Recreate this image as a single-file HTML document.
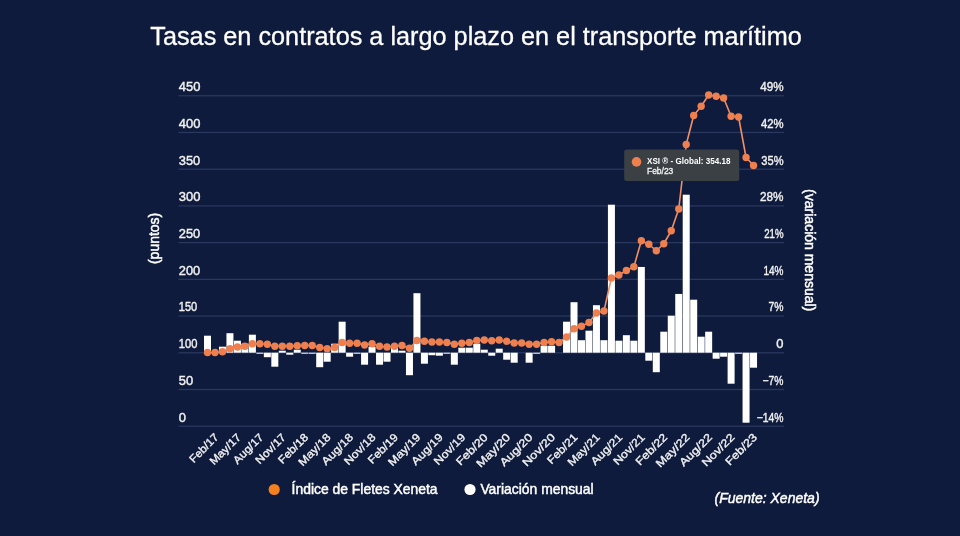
<!DOCTYPE html>
<html><head><meta charset="utf-8"><title>Tasas en contratos a largo plazo en el transporte marítimo</title>
<style>
html,body{margin:0;padding:0;background:#0e1b3c;}
body{width:960px;height:536px;overflow:hidden;font-family:"Liberation Sans",sans-serif;}
svg{display:block}
text{font-family:"Liberation Sans",sans-serif;fill:#f2f2f2}
.ax{font-size:12.5px;stroke:#f2f2f2;stroke-width:0.4px}
.xl{font-size:11px;stroke:#f2f2f2;stroke-width:0.35px}
.yt{font-size:14px;fill:#fff;stroke:#fff;stroke-width:0.5px}
.lg{font-size:13.9px;fill:#fff;stroke:#fff;stroke-width:0.45px}
</style></head><body>
<svg width="960" height="536" viewBox="0 0 960 536">
<rect width="960" height="536" fill="#0e1b3c"/>
<text x="150.3" y="44.9" font-size="26" style="fill:#fff;stroke:#fff;stroke-width:0.3px" textLength="651.5" lengthAdjust="spacingAndGlyphs">Tasas en contratos a largo plazo en el transporte marítimo</text>

<rect x="178.5" y="95.10" width="605.5" height="1.3" fill="#2a375f"/>
<rect x="178.5" y="131.82" width="605.5" height="1.3" fill="#2a375f"/>
<rect x="178.5" y="168.54" width="605.5" height="1.3" fill="#2a375f"/>
<rect x="178.5" y="205.26" width="605.5" height="1.3" fill="#2a375f"/>
<rect x="178.5" y="241.98" width="605.5" height="1.3" fill="#2a375f"/>
<rect x="178.5" y="278.70" width="605.5" height="1.3" fill="#2a375f"/>
<rect x="178.5" y="315.42" width="605.5" height="1.3" fill="#2a375f"/>
<rect x="178.5" y="352.14" width="605.5" height="1.3" fill="#2a375f"/>
<rect x="178.5" y="388.86" width="605.5" height="1.3" fill="#2a375f"/>
<rect x="178.5" y="425.58" width="605.5" height="1.3" fill="#2a375f"/>
<text class="ax" x="178.8" y="91.15" textLength="21.6" lengthAdjust="spacingAndGlyphs">450</text>
<text class="ax" x="178.8" y="127.87" textLength="21.6" lengthAdjust="spacingAndGlyphs">400</text>
<text class="ax" x="178.8" y="164.59" textLength="21.4" lengthAdjust="spacingAndGlyphs">350</text>
<text class="ax" x="178.8" y="201.31" textLength="21.6" lengthAdjust="spacingAndGlyphs">300</text>
<text class="ax" x="178.8" y="238.03" textLength="21.4" lengthAdjust="spacingAndGlyphs">250</text>
<text class="ax" x="178.8" y="274.75" textLength="21.4" lengthAdjust="spacingAndGlyphs">200</text>
<text class="ax" x="178.8" y="311.47" textLength="18.4" lengthAdjust="spacingAndGlyphs">150</text>
<text class="ax" x="178.8" y="348.19" textLength="18.6" lengthAdjust="spacingAndGlyphs">100</text>
<text class="ax" x="178.8" y="384.91" textLength="14.4" lengthAdjust="spacingAndGlyphs">50</text>
<text class="ax" x="178.8" y="421.63" textLength="7.2" lengthAdjust="spacingAndGlyphs">0</text>
<text class="ax" x="783.5" y="91.15" text-anchor="end" textLength="23.3" lengthAdjust="spacingAndGlyphs">49%</text>
<text class="ax" x="783.5" y="127.87" text-anchor="end" textLength="22.6" lengthAdjust="spacingAndGlyphs">42%</text>
<text class="ax" x="783.5" y="164.59" text-anchor="end" textLength="22.2" lengthAdjust="spacingAndGlyphs">35%</text>
<text class="ax" x="783.5" y="201.31" text-anchor="end" textLength="23.5" lengthAdjust="spacingAndGlyphs">28%</text>
<text class="ax" x="783.5" y="238.03" text-anchor="end" textLength="19.3" lengthAdjust="spacingAndGlyphs">21%</text>
<text class="ax" x="783.5" y="274.75" text-anchor="end" textLength="20" lengthAdjust="spacingAndGlyphs">14%</text>
<text class="ax" x="783.5" y="311.47" text-anchor="end" textLength="15" lengthAdjust="spacingAndGlyphs">7%</text>
<text class="ax" x="783.5" y="348.19" text-anchor="end" textLength="7.2" lengthAdjust="spacingAndGlyphs">0</text>
<text class="ax" x="783.5" y="384.91" text-anchor="end" textLength="20.9" lengthAdjust="spacingAndGlyphs">−7%</text>
<text class="ax" x="783.5" y="421.63" text-anchor="end" textLength="26.8" lengthAdjust="spacingAndGlyphs">−14%</text>
<rect x="204.00" y="335.70" width="7" height="17.00" fill="#fff"/>
<rect x="218.96" y="346.70" width="7" height="6.00" fill="#fff"/>
<rect x="226.44" y="333.20" width="7" height="19.50" fill="#fff"/>
<rect x="233.92" y="340.70" width="7" height="12.00" fill="#fff"/>
<rect x="241.40" y="343.70" width="7" height="9.00" fill="#fff"/>
<rect x="248.88" y="334.70" width="7" height="18.00" fill="#fff"/>
<rect x="256.36" y="352.70" width="7" height="1.00" fill="#fff"/>
<rect x="263.84" y="352.70" width="7" height="4.50" fill="#fff"/>
<rect x="271.32" y="352.70" width="7" height="14.00" fill="#fff"/>
<rect x="278.80" y="350.70" width="7" height="2.00" fill="#fff"/>
<rect x="286.28" y="352.70" width="7" height="2.00" fill="#fff"/>
<rect x="293.76" y="349.70" width="7" height="3.00" fill="#fff"/>
<rect x="301.24" y="352.70" width="7" height="1.00" fill="#fff"/>
<rect x="308.72" y="352.70" width="7" height="1.00" fill="#fff"/>
<rect x="316.20" y="352.70" width="7" height="14.50" fill="#fff"/>
<rect x="323.68" y="352.70" width="7" height="9.00" fill="#fff"/>
<rect x="331.16" y="343.70" width="7" height="9.00" fill="#fff"/>
<rect x="338.64" y="321.70" width="7" height="31.00" fill="#fff"/>
<rect x="346.12" y="352.70" width="7" height="4.00" fill="#fff"/>
<rect x="353.60" y="352.70" width="7" height="1.00" fill="#fff"/>
<rect x="361.08" y="352.70" width="7" height="12.00" fill="#fff"/>
<rect x="368.56" y="346.70" width="7" height="6.00" fill="#fff"/>
<rect x="376.04" y="352.70" width="7" height="12.00" fill="#fff"/>
<rect x="383.52" y="352.70" width="7" height="9.00" fill="#fff"/>
<rect x="391.00" y="347.70" width="7" height="5.00" fill="#fff"/>
<rect x="398.48" y="350.70" width="7" height="2.00" fill="#fff"/>
<rect x="405.96" y="352.70" width="7" height="22.50" fill="#fff"/>
<rect x="413.44" y="293.20" width="7" height="59.50" fill="#fff"/>
<rect x="420.92" y="352.70" width="7" height="11.00" fill="#fff"/>
<rect x="428.40" y="352.70" width="7" height="2.50" fill="#fff"/>
<rect x="435.88" y="352.70" width="7" height="3.00" fill="#fff"/>
<rect x="443.36" y="352.70" width="7" height="1.00" fill="#fff"/>
<rect x="450.84" y="352.70" width="7" height="12.00" fill="#fff"/>
<rect x="458.32" y="347.70" width="7" height="5.00" fill="#fff"/>
<rect x="465.80" y="347.70" width="7" height="5.00" fill="#fff"/>
<rect x="473.28" y="343.70" width="7" height="9.00" fill="#fff"/>
<rect x="480.76" y="349.70" width="7" height="3.00" fill="#fff"/>
<rect x="488.24" y="352.70" width="7" height="3.00" fill="#fff"/>
<rect x="495.72" y="348.70" width="7" height="4.00" fill="#fff"/>
<rect x="503.20" y="352.70" width="7" height="7.00" fill="#fff"/>
<rect x="510.68" y="352.70" width="7" height="10.00" fill="#fff"/>
<rect x="525.64" y="352.70" width="7" height="10.00" fill="#fff"/>
<rect x="533.12" y="352.70" width="7" height="1.00" fill="#fff"/>
<rect x="540.60" y="345.70" width="7" height="7.00" fill="#fff"/>
<rect x="548.08" y="345.70" width="7" height="7.00" fill="#fff"/>
<rect x="563.04" y="321.70" width="7" height="31.00" fill="#fff"/>
<rect x="570.52" y="302.20" width="7" height="50.50" fill="#fff"/>
<rect x="578.00" y="340.20" width="7" height="12.50" fill="#fff"/>
<rect x="585.48" y="330.70" width="7" height="22.00" fill="#fff"/>
<rect x="592.96" y="305.20" width="7" height="47.50" fill="#fff"/>
<rect x="600.44" y="340.20" width="7" height="12.50" fill="#fff"/>
<rect x="607.92" y="204.70" width="7" height="148.00" fill="#fff"/>
<rect x="615.40" y="340.70" width="7" height="12.00" fill="#fff"/>
<rect x="622.88" y="335.20" width="7" height="17.50" fill="#fff"/>
<rect x="630.36" y="340.70" width="7" height="12.00" fill="#fff"/>
<rect x="637.84" y="266.95" width="7" height="85.75" fill="#fff"/>
<rect x="645.32" y="352.70" width="7" height="8.00" fill="#fff"/>
<rect x="652.80" y="352.70" width="7" height="19.50" fill="#fff"/>
<rect x="660.28" y="331.70" width="7" height="21.00" fill="#fff"/>
<rect x="667.76" y="315.70" width="7" height="37.00" fill="#fff"/>
<rect x="675.24" y="293.95" width="7" height="58.75" fill="#fff"/>
<rect x="682.72" y="194.70" width="7" height="158.00" fill="#fff"/>
<rect x="690.20" y="299.70" width="7" height="53.00" fill="#fff"/>
<rect x="697.68" y="336.70" width="7" height="16.00" fill="#fff"/>
<rect x="705.16" y="331.70" width="7" height="21.00" fill="#fff"/>
<rect x="712.64" y="352.70" width="7" height="6.00" fill="#fff"/>
<rect x="720.12" y="352.70" width="7" height="4.00" fill="#fff"/>
<rect x="727.60" y="352.70" width="7" height="31.00" fill="#fff"/>
<rect x="735.08" y="352.70" width="7" height="1.00" fill="#fff"/>
<rect x="742.56" y="352.70" width="7" height="70.00" fill="#fff"/>
<rect x="750.04" y="352.70" width="7" height="15.00" fill="#fff"/>
<polyline points="207.50,352.50 214.98,352.50 222.46,351.75 229.94,348.75 237.42,347.00 244.90,346.25 252.38,343.75 259.86,343.75 267.34,344.25 274.82,346.25 282.30,346.25 289.78,346.25 297.26,345.75 304.74,345.50 312.22,345.50 319.70,347.50 327.18,348.75 334.66,347.50 342.14,342.50 349.62,343.25 357.10,343.25 364.58,345.00 372.06,343.75 379.54,346.25 387.02,347.00 394.50,346.25 401.98,345.50 409.46,348.25 416.94,340.50 424.42,341.25 431.90,342.00 439.38,342.00 446.86,342.50 454.34,344.25 461.82,343.25 469.30,342.50 476.78,340.50 484.26,340.00 491.74,340.75 499.22,340.00 506.70,341.25 514.18,343.00 521.66,343.00 529.14,344.25 536.62,344.25 544.10,342.50 551.58,341.75 559.06,342.50 566.54,337.00 574.02,328.75 581.50,326.25 588.98,322.50 596.46,313.00 603.94,311.00 611.42,278.00 618.90,275.00 626.38,270.50 633.86,266.75 641.34,240.75 648.82,244.25 656.30,250.75 663.78,243.75 671.26,230.75 678.74,209.00 686.22,144.50 693.70,115.50 701.18,106.25 708.66,95.00 716.14,96.25 723.62,98.00 731.10,116.25 738.58,117.00 746.06,157.50 753.54,165.50" fill="none" stroke="#ef9068" stroke-width="1.6" stroke-linejoin="round"/>
<circle cx="207.50" cy="352.50" r="3.7" fill="#ee7f4f"/>
<circle cx="214.98" cy="352.50" r="3.7" fill="#ee7f4f"/>
<circle cx="222.46" cy="351.75" r="3.7" fill="#ee7f4f"/>
<circle cx="229.94" cy="348.75" r="3.7" fill="#ee7f4f"/>
<circle cx="237.42" cy="347.00" r="3.7" fill="#ee7f4f"/>
<circle cx="244.90" cy="346.25" r="3.7" fill="#ee7f4f"/>
<circle cx="252.38" cy="343.75" r="3.7" fill="#ee7f4f"/>
<circle cx="259.86" cy="343.75" r="3.7" fill="#ee7f4f"/>
<circle cx="267.34" cy="344.25" r="3.7" fill="#ee7f4f"/>
<circle cx="274.82" cy="346.25" r="3.7" fill="#ee7f4f"/>
<circle cx="282.30" cy="346.25" r="3.7" fill="#ee7f4f"/>
<circle cx="289.78" cy="346.25" r="3.7" fill="#ee7f4f"/>
<circle cx="297.26" cy="345.75" r="3.7" fill="#ee7f4f"/>
<circle cx="304.74" cy="345.50" r="3.7" fill="#ee7f4f"/>
<circle cx="312.22" cy="345.50" r="3.7" fill="#ee7f4f"/>
<circle cx="319.70" cy="347.50" r="3.7" fill="#ee7f4f"/>
<circle cx="327.18" cy="348.75" r="3.7" fill="#ee7f4f"/>
<circle cx="334.66" cy="347.50" r="3.7" fill="#ee7f4f"/>
<circle cx="342.14" cy="342.50" r="3.7" fill="#ee7f4f"/>
<circle cx="349.62" cy="343.25" r="3.7" fill="#ee7f4f"/>
<circle cx="357.10" cy="343.25" r="3.7" fill="#ee7f4f"/>
<circle cx="364.58" cy="345.00" r="3.7" fill="#ee7f4f"/>
<circle cx="372.06" cy="343.75" r="3.7" fill="#ee7f4f"/>
<circle cx="379.54" cy="346.25" r="3.7" fill="#ee7f4f"/>
<circle cx="387.02" cy="347.00" r="3.7" fill="#ee7f4f"/>
<circle cx="394.50" cy="346.25" r="3.7" fill="#ee7f4f"/>
<circle cx="401.98" cy="345.50" r="3.7" fill="#ee7f4f"/>
<circle cx="409.46" cy="348.25" r="3.7" fill="#ee7f4f"/>
<circle cx="416.94" cy="340.50" r="3.7" fill="#ee7f4f"/>
<circle cx="424.42" cy="341.25" r="3.7" fill="#ee7f4f"/>
<circle cx="431.90" cy="342.00" r="3.7" fill="#ee7f4f"/>
<circle cx="439.38" cy="342.00" r="3.7" fill="#ee7f4f"/>
<circle cx="446.86" cy="342.50" r="3.7" fill="#ee7f4f"/>
<circle cx="454.34" cy="344.25" r="3.7" fill="#ee7f4f"/>
<circle cx="461.82" cy="343.25" r="3.7" fill="#ee7f4f"/>
<circle cx="469.30" cy="342.50" r="3.7" fill="#ee7f4f"/>
<circle cx="476.78" cy="340.50" r="3.7" fill="#ee7f4f"/>
<circle cx="484.26" cy="340.00" r="3.7" fill="#ee7f4f"/>
<circle cx="491.74" cy="340.75" r="3.7" fill="#ee7f4f"/>
<circle cx="499.22" cy="340.00" r="3.7" fill="#ee7f4f"/>
<circle cx="506.70" cy="341.25" r="3.7" fill="#ee7f4f"/>
<circle cx="514.18" cy="343.00" r="3.7" fill="#ee7f4f"/>
<circle cx="521.66" cy="343.00" r="3.7" fill="#ee7f4f"/>
<circle cx="529.14" cy="344.25" r="3.7" fill="#ee7f4f"/>
<circle cx="536.62" cy="344.25" r="3.7" fill="#ee7f4f"/>
<circle cx="544.10" cy="342.50" r="3.7" fill="#ee7f4f"/>
<circle cx="551.58" cy="341.75" r="3.7" fill="#ee7f4f"/>
<circle cx="559.06" cy="342.50" r="3.7" fill="#ee7f4f"/>
<circle cx="566.54" cy="337.00" r="3.7" fill="#ee7f4f"/>
<circle cx="574.02" cy="328.75" r="3.7" fill="#ee7f4f"/>
<circle cx="581.50" cy="326.25" r="3.7" fill="#ee7f4f"/>
<circle cx="588.98" cy="322.50" r="3.7" fill="#ee7f4f"/>
<circle cx="596.46" cy="313.00" r="3.7" fill="#ee7f4f"/>
<circle cx="603.94" cy="311.00" r="3.7" fill="#ee7f4f"/>
<circle cx="611.42" cy="278.00" r="3.7" fill="#ee7f4f"/>
<circle cx="618.90" cy="275.00" r="3.7" fill="#ee7f4f"/>
<circle cx="626.38" cy="270.50" r="3.7" fill="#ee7f4f"/>
<circle cx="633.86" cy="266.75" r="3.7" fill="#ee7f4f"/>
<circle cx="641.34" cy="240.75" r="3.7" fill="#ee7f4f"/>
<circle cx="648.82" cy="244.25" r="3.7" fill="#ee7f4f"/>
<circle cx="656.30" cy="250.75" r="3.7" fill="#ee7f4f"/>
<circle cx="663.78" cy="243.75" r="3.7" fill="#ee7f4f"/>
<circle cx="671.26" cy="230.75" r="3.7" fill="#ee7f4f"/>
<circle cx="678.74" cy="209.00" r="3.7" fill="#ee7f4f"/>
<circle cx="686.22" cy="144.50" r="3.7" fill="#ee7f4f"/>
<circle cx="693.70" cy="115.50" r="3.7" fill="#ee7f4f"/>
<circle cx="701.18" cy="106.25" r="3.7" fill="#ee7f4f"/>
<circle cx="708.66" cy="95.00" r="3.7" fill="#ee7f4f"/>
<circle cx="716.14" cy="96.25" r="3.7" fill="#ee7f4f"/>
<circle cx="723.62" cy="98.00" r="3.7" fill="#ee7f4f"/>
<circle cx="731.10" cy="116.25" r="3.7" fill="#ee7f4f"/>
<circle cx="738.58" cy="117.00" r="3.7" fill="#ee7f4f"/>
<circle cx="746.06" cy="157.50" r="3.7" fill="#ee7f4f"/>
<circle cx="753.54" cy="165.50" r="3.7" fill="#ee7f4f"/>
<text class="xl" transform="translate(219.18,438.0) rotate(-45)" text-anchor="end" textLength="36.0" lengthAdjust="spacingAndGlyphs">Feb/17</text>
<text class="xl" transform="translate(241.62,438.0) rotate(-45)" text-anchor="end" textLength="39.0" lengthAdjust="spacingAndGlyphs">May/17</text>
<text class="xl" transform="translate(264.06,438.0) rotate(-45)" text-anchor="end" textLength="37.7" lengthAdjust="spacingAndGlyphs">Aug/17</text>
<text class="xl" transform="translate(286.50,438.0) rotate(-45)" text-anchor="end" textLength="37.7" lengthAdjust="spacingAndGlyphs">Nov/17</text>
<text class="xl" transform="translate(308.94,438.0) rotate(-45)" text-anchor="end" textLength="37.5" lengthAdjust="spacingAndGlyphs">Feb/18</text>
<text class="xl" transform="translate(331.38,438.0) rotate(-45)" text-anchor="end" textLength="40.5" lengthAdjust="spacingAndGlyphs">May/18</text>
<text class="xl" transform="translate(353.82,438.0) rotate(-45)" text-anchor="end" textLength="39.2" lengthAdjust="spacingAndGlyphs">Aug/18</text>
<text class="xl" transform="translate(376.26,438.0) rotate(-45)" text-anchor="end" textLength="39.2" lengthAdjust="spacingAndGlyphs">Nov/18</text>
<text class="xl" transform="translate(398.70,438.0) rotate(-45)" text-anchor="end" textLength="37.5" lengthAdjust="spacingAndGlyphs">Feb/19</text>
<text class="xl" transform="translate(421.14,438.0) rotate(-45)" text-anchor="end" textLength="40.5" lengthAdjust="spacingAndGlyphs">May/19</text>
<text class="xl" transform="translate(443.58,438.0) rotate(-45)" text-anchor="end" textLength="39.2" lengthAdjust="spacingAndGlyphs">Aug/19</text>
<text class="xl" transform="translate(466.02,438.0) rotate(-45)" text-anchor="end" textLength="39.2" lengthAdjust="spacingAndGlyphs">Nov/19</text>
<text class="xl" transform="translate(488.46,438.0) rotate(-45)" text-anchor="end" textLength="39.5" lengthAdjust="spacingAndGlyphs">Feb/20</text>
<text class="xl" transform="translate(510.90,438.0) rotate(-45)" text-anchor="end" textLength="42.5" lengthAdjust="spacingAndGlyphs">May/20</text>
<text class="xl" transform="translate(533.34,438.0) rotate(-45)" text-anchor="end" textLength="41.2" lengthAdjust="spacingAndGlyphs">Aug/20</text>
<text class="xl" transform="translate(555.78,438.0) rotate(-45)" text-anchor="end" textLength="41.2" lengthAdjust="spacingAndGlyphs">Nov/20</text>
<text class="xl" transform="translate(578.22,438.0) rotate(-45)" text-anchor="end" textLength="37.7" lengthAdjust="spacingAndGlyphs">Feb/21</text>
<text class="xl" transform="translate(600.66,438.0) rotate(-45)" text-anchor="end" textLength="40.7" lengthAdjust="spacingAndGlyphs">May/21</text>
<text class="xl" transform="translate(623.10,438.0) rotate(-45)" text-anchor="end" textLength="39.4" lengthAdjust="spacingAndGlyphs">Aug/21</text>
<text class="xl" transform="translate(645.54,438.0) rotate(-45)" text-anchor="end" textLength="39.4" lengthAdjust="spacingAndGlyphs">Nov/21</text>
<text class="xl" transform="translate(667.98,438.0) rotate(-45)" text-anchor="end" textLength="39.5" lengthAdjust="spacingAndGlyphs">Feb/22</text>
<text class="xl" transform="translate(690.42,438.0) rotate(-45)" text-anchor="end" textLength="42.5" lengthAdjust="spacingAndGlyphs">May/22</text>
<text class="xl" transform="translate(712.86,438.0) rotate(-45)" text-anchor="end" textLength="41.2" lengthAdjust="spacingAndGlyphs">Aug/22</text>
<text class="xl" transform="translate(735.30,438.0) rotate(-45)" text-anchor="end" textLength="41.2" lengthAdjust="spacingAndGlyphs">Nov/22</text>
<text class="xl" transform="translate(757.74,438.0) rotate(-45)" text-anchor="end" textLength="39.5" lengthAdjust="spacingAndGlyphs">Feb/23</text>
<text class="yt" transform="translate(158.6,238.4) rotate(-90)" text-anchor="middle">(puntos)</text>
<text class="yt" transform="translate(804.8,250.2) rotate(90)" text-anchor="middle">(variación mensual)</text>
<rect x="624.2" y="149.5" width="115" height="31.6" rx="2.5" fill="#3a4044"/>
<circle cx="636.5" cy="161.9" r="4.8" fill="#ee7f4f"/>
<text x="647" y="164.1" font-size="9" font-weight="bold" style="fill:#fff" textLength="83.5" lengthAdjust="spacingAndGlyphs">XSI ® - Global: 354.18</text>
<text x="647" y="173.5" font-size="8.4" style="fill:#f4f4f4;stroke:#f4f4f4;stroke-width:0.3px" textLength="26.3" lengthAdjust="spacingAndGlyphs">Feb/23</text>
<circle cx="274.2" cy="489.5" r="5.6" fill="#f5811e"/>
<text class="lg" x="291.6" y="493.7">Índice de Fletes Xeneta</text>
<circle cx="470" cy="489.5" r="5.6" fill="#fff"/>
<text class="lg" x="480.4" y="493.7">Variación mensual</text>
<text x="714.5" y="502.8" font-size="14" font-style="italic" style="fill:#fff;stroke:#fff;stroke-width:0.45px">(Fuente: Xeneta)</text>
</svg></body></html>
